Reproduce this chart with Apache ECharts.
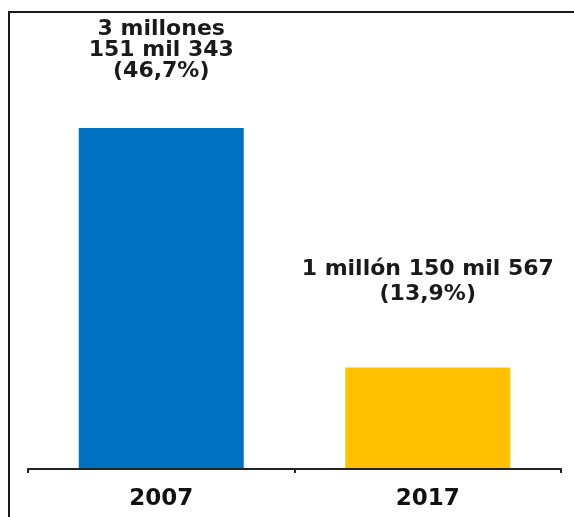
<!DOCTYPE html>
<html>
<head>
<meta charset="utf-8">
<script src="https://cdn.jsdelivr.net/npm/echarts@6/dist/echarts.min.js"></script>
<style>
html,body{margin:0;padding:0;background:#fff;}
#chart{width:574px;height:517px;}
</style>
</head>
<body>
<div id="chart"></div>
<script>
var categories = ['2007', '2017'];
var percentValues = [46.7, 13.9];
var labelLines = [
  ['3 millones', '151 mil 343', '(46,7%)'],
  ['1 millón 150 mil 567', '(13,9%)']
];
var barColors = ['#0070C0', '#FFC000'];

var chart = echarts.init(document.getElementById('chart'), null, {renderer: 'canvas'});

var labelStyles = [
  {distance: 46, lineHeight: 21},
  {distance: 61, lineHeight: 25}
];

var seriesData = percentValues.map(function (v, i) {
  return {
    value: v,
    itemStyle: {color: barColors[i]},
    label: {
      show: true,
      position: 'top',
      distance: labelStyles[i].distance,
      lineHeight: labelStyles[i].lineHeight,
      formatter: labelLines[i].join('\n')
    }
  };
});

chart.setOption({
  animation: false,
  backgroundColor: '#ffffff',
  graphic: [{
    type: 'rect',
    shape: {x: 9, y: 12, width: 700, height: 700},
    style: {fill: 'none', stroke: '#1a1a1a', lineWidth: 2},
    z: 100
  }],
  grid: {left: 28, right: 13, top: 31, bottom: 48},
  xAxis: {
    type: 'category',
    data: categories,
    boundaryGap: true,
    axisLine: {show: true, lineStyle: {color: '#222222', width: 2}},
    axisTick: {show: true, length: 4, lineStyle: {color: '#222222', width: 2}},
    axisLabel: {
      margin: 19,
      color: '#111111',
      fontFamily: 'DejaVu Sans',
      fontWeight: 'bold',
      fontSize: 23
    },
    z: 10
  },
  yAxis: {
    type: 'value',
    min: 0,
    max: 60,
    show: false,
    splitLine: {show: false}
  },
  series: [{
    type: 'bar',
    data: seriesData,
    barWidth: 165,
    label: {
      color: '#1a1a1a',
      fontFamily: 'DejaVu Sans',
      fontWeight: 'bold',
      fontSize: 22,
      align: 'center'
    },
    z: 2
  }]
});
</script>
</body>
</html>
